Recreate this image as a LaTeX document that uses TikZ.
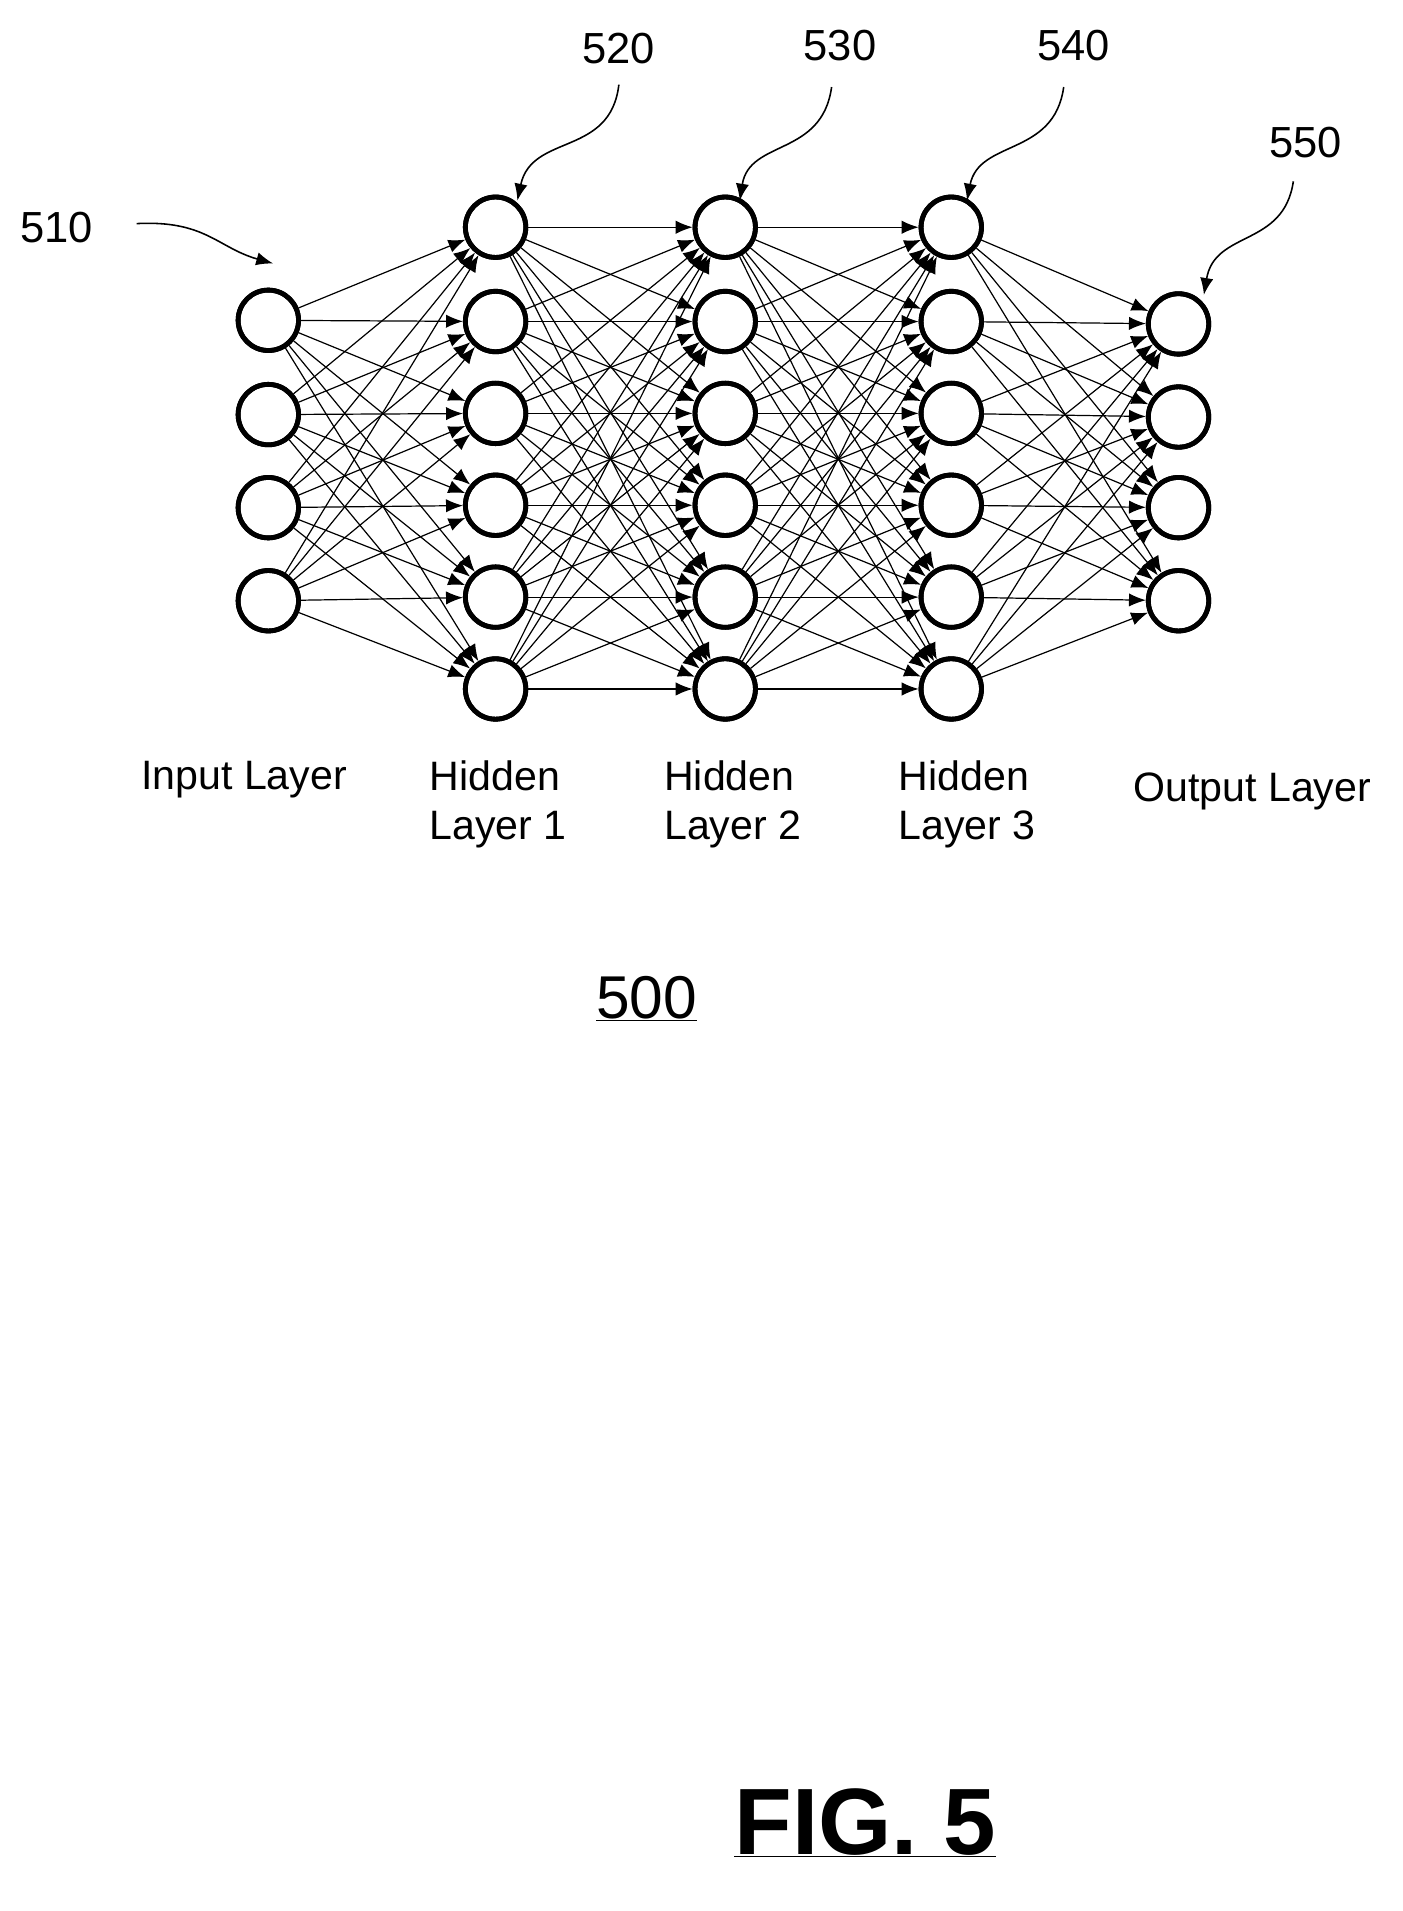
\documentclass[tikz,border=0pt]{standalone}
\usepackage{fontspec}
\setmainfont{Liberation Sans}
\usetikzlibrary{arrows.meta}
\begin{document}
\begin{tikzpicture}[x=1pt,y=-1pt,
  neuron/.style={circle,draw,line width=4pt,minimum size=50pt,inner sep=0pt,fill=white},
  edge/.style={line width=1pt,-{Latex[length=14pt,width=11pt]}},
  callout/.style={line width=1.3pt,-{Latex[length=14pt,width=11pt]}},
  lbl/.style={font=\fontsize{34}{40}\selectfont,align=left},
  num/.style={font=\fontsize{36}{40}\selectfont}]
\useasboundingbox (0,0) rectangle (1160,1581);
% nodes
\foreach \i/\y in {1/265,2/343,3/420,4/497} \node[neuron] (i\i) at (222,\y) {};
\foreach \L/\x in {a/410,b/600,c/787} \foreach \i/\y in {1/188,2/266,3/342,4/418,5/494,6/570} \node[neuron] (\L\i) at (\x,\y) {};
\foreach \i/\y in {1/268,2/345,3/420,4/497} \node[neuron] (o\i) at (975,\y) {};
% edges
\begin{scope}[on background layer/.style={}]
\foreach \s in {1,...,4} \foreach \t in {1,...,6} \draw[edge] (i\s) -- (a\t);
\foreach \s in {1,...,6} \foreach \t in {1,...,6} \draw[edge] (a\s) -- (b\t);
\foreach \s in {1,...,6} \foreach \t in {1,...,6} \draw[edge] (b\s) -- (c\t);
\foreach \s in {1,...,6} \foreach \t in {1,...,4} \draw[edge] (c\s) -- (o\t);
\end{scope}
% redraw circles over lines
\foreach \i/\y in {1/265,2/343,3/420,4/497} \draw[line width=4pt] (222,\y) circle (25pt);
\foreach \x in {410,600,787} \foreach \y in {188,266,342,418,494,570} \draw[line width=4pt] (\x,\y) circle (25pt);
\foreach \y in {268,345,420,497} \draw[line width=4pt] (975,\y) circle (25pt);
% numbers
\node[num] (n510) at (47,188) {510};
\node[num] (n520) at (512,40) {520};
\node[num] (n530) at (695,38) {530};
\node[num] (n540) at (888,38) {540};
\node[num] (n550) at (1080,118) {550};
\coordinate (t510) at (226,218);
\coordinate (t520) at (428,166);
\coordinate (t530) at (612,166);
\coordinate (t540) at (800,166);
\coordinate (t550) at (996,244);
\draw[callout] (113,185) .. controls (170,182) and (180,205) .. (t510);
\draw[callout] (512,70) .. controls (505,130) and (440,110) .. (t520);
\draw[callout] (688,72) .. controls (680,130) and (620,115) .. (t530);
\draw[callout] (880,72) .. controls (872,130) and (810,115) .. (t540);
\draw[callout] (1070,150) .. controls (1062,205) and (1005,190) .. (t550);
% layer labels
\node[lbl] (l1) at (202,645) {Input Layer};
\node[lbl,anchor=north west] (l2) at (352,626) {Hidden\\Layer 1};
\node[lbl,anchor=north west] (l3) at (546,626) {Hidden\\Layer 2};
\node[lbl,anchor=north west] (l4) at (740,626) {Hidden\\Layer 3};
\node[lbl] (l5) at (1036,655) {Output Layer};
\node[font=\fontsize{50}{56}\selectfont] (n500) at (535,826) {\underline{500}};
\node[font=\fontsize{78}{84}\selectfont\bfseries] (fig) at (716,1508) {\underline{FIG. 5}};
\end{tikzpicture}
\end{document}
